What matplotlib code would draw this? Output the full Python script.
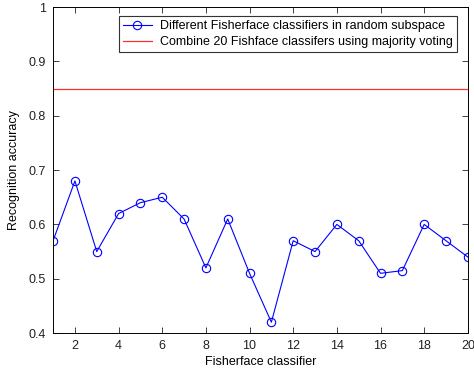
import matplotlib
matplotlib.use("Agg")
import matplotlib.pyplot as plt
import numpy as np

# --- Data ---
classifier_idx = np.arange(1, 21)
accuracy = [0.57, 0.68, 0.55, 0.62, 0.64, 0.65, 0.61, 0.52, 0.61, 0.51,
            0.42, 0.57, 0.55, 0.60, 0.57, 0.51, 0.515, 0.60, 0.57, 0.54]
majority_vote = 0.85
x_ticks = list(range(2, 21, 2))
y_ticks = [0.4, 0.5, 0.6, 0.7, 0.8, 0.9, 1.0]
y_tick_labels = ['0.4', '0.5', '0.6', '0.7', '0.8', '0.9', '1']

plt.rcParams['font.family'] = ['Liberation Sans', 'DejaVu Sans']
plt.rcParams['font.size'] = 9

fig = plt.figure(figsize=(4.74, 3.73), dpi=100)
ax = fig.add_axes([0.112, 0.107, 0.875, 0.874])

ax.plot(classifier_idx, accuracy, color='blue', linewidth=0.8,
        marker='o', markersize=6, markerfacecolor='none', markeredgewidth=0.8,
        label='Different Fisherface classifiers in random subspace')
ax.axhline(majority_vote, color='#ff3030', linewidth=0.9,
           label='Combine 20 Fishface classifers using majority voting')

ax.set_xlim(1, 20)
ax.set_ylim(0.4, 1.0)
ax.set_xticks(x_ticks)
ax.set_yticks(y_ticks)
ax.set_yticklabels(y_tick_labels)
ax.tick_params(direction='in', top=True, right=True, length=4, width=0.6,
               labelsize=9, pad=5, colors='#222222')
for s in ax.spines.values():
    s.set_linewidth(0.7)

ax.set_xlabel('Fisherface classifier', labelpad=3)
ax.set_ylabel('Recognition accuracy', labelpad=6)

leg = ax.legend(loc='upper right', bbox_to_anchor=(0.992, 0.995),
                fancybox=False, framealpha=1,
                edgecolor='#333333', borderpad=0.3, handlelength=2.3,
                handletextpad=0.7, labelspacing=0.35, borderaxespad=0.6)
leg.get_frame().set_linewidth(0.8)

fig.savefig('out.png', dpi=100)
